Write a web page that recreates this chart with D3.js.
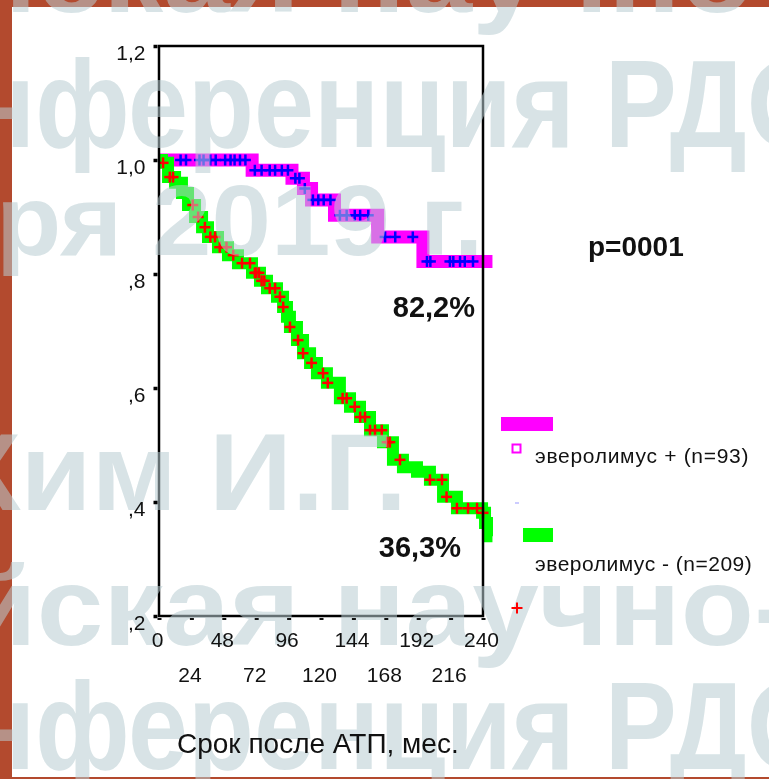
<!DOCTYPE html>
<html>
<head>
<meta charset="UTF-8">
<title>Выживаемость после АТП</title>
<style>
    body { margin: 0; background: #fff; }
    svg text { font-family: "Liberation Sans", Arial, sans-serif; }
    .axis path { display: none; }
    .axis text { fill: #111; }
    .wm text { font-weight: bold; fill: #b8cdd2; }
</style>
</head>
<body>
<svg id="chart" width="769" height="779"></svg>
<script src="https://cdn.jsdelivr.net/npm/d3@7/dist/d3.min.js"></script>
<script>
    // everolimus + : step curve (months, survival)
    const plusTimes = [0, 69, 98.5, 107, 113, 130, 162, 195.5, 247];
    const plusSurv = [1.0, 0.982, 0.968, 0.95, 0.930, 0.903, 0.865, 0.822, 0.822];
    const plusCensored = [16, 20, 30, 33, 38, 42, 49, 53, 56, 60, 64, 71, 76, 82, 86, 91, 95.5,
        101, 104, 108, 114, 118, 122, 127, 134, 139, 145, 149, 155, 167.5, 175, 188,
        198.5, 201, 215.5, 218, 223, 226.5, 232.6];

    // everolimus - : step curve
    const minusTimes = [0, 2.2, 6.7, 11.9, 17, 21.5, 26.7, 31.9, 36.3, 43.7, 51.1, 58.5, 68.9,
        74.8, 80, 87.4, 91.9, 94.8, 97, 102.2, 106.7, 111.9, 117, 124.4, 134, 141.5, 148.9,
        156.3, 165.9, 173.3, 180.7, 191.1, 200.7, 210.4, 220.7, 239.3, 241.5, 244.5, 247];
    const minusSurv = [1.0, 0.995, 0.970, 0.960, 0.942, 0.921, 0.900, 0.882, 0.865, 0.847, 0.833,
        0.819, 0.802, 0.788, 0.775, 0.760, 0.742, 0.725, 0.707, 0.684, 0.661, 0.644, 0.626,
        0.609, 0.582, 0.567, 0.549, 0.526, 0.505, 0.474, 0.461, 0.453, 0.439, 0.409, 0.389,
        0.381, 0.363, 0.34, 0.34];
    const minusCensored = [3, 8, 10.4, 25, 29, 34, 38, 41.5, 45, 50, 55, 61.5, 67.4, 71, 72, 74,
        76, 78, 82, 86, 89.6, 92, 97, 103, 106.7, 113, 121.5, 125, 136, 139, 145, 149, 152.6,
        156.3, 160, 165, 169, 171, 178.5, 200.7, 209.6, 213, 220.7, 228.9, 235.6, 240];

    const yTicks = [0.2, 0.4, 0.6, 0.8, 1.0, 1.2];
    const yLabels = [',2', ',4', ',6', ',8', '1,0', '1,2'];
    const xTicks = [0, 24, 48, 72, 96, 120, 144, 168, 192, 216, 240];
    const legendLabels = ['эверолимус + (n=93)', 'эверолимус - (n=209)'];
    const finalLabels = ['82,2%', '36,3%'];
    const pLabel = 'p=0001';
    const xTitle = 'Срок после АТП, мес.';
    const watermarkRows = ['йская научно-', 'нференция РДО', 'ря 2019 г.', 'Ким И.Г.',
        'йская научно-', 'нференция РДО'];

    const svg = d3.select('#chart');

    const x = d3.scaleLinear().domain([0, 240]).range([159, 483]);
    const y = d3.scaleLinear().domain([0.2, 1.2]).range([616, 46]);

    // slide background
    svg.append('rect').attr('x', 0).attr('y', 0).attr('width', 769).attr('height', 779).attr('fill', '#b34a2e');
    svg.append('rect').attr('x', 12).attr('y', 7).attr('width', 757).attr('height', 770).attr('fill', '#fff');

    svg.append('clipPath').attr('id', 'clip')
        .append('rect').attr('x', 159).attr('y', 30).attr('width', 334).attr('height', 600);

    const line = d3.line()
        .x(d => x(d[0]))
        .y(d => y(d[1]))
        .curve(d3.curveStepAfter);

    function survAt(times, surv, t) {
        let i = d3.bisectRight(times, t) - 1;
        return surv[Math.max(0, i)];
    }

    function plusMark(g, cx, cy, color, size, w) {
        g.append('line').attr('x1', cx - size / 2).attr('x2', cx + size / 2).attr('y1', cy).attr('y2', cy)
            .attr('stroke', color).attr('stroke-width', w);
        g.append('line').attr('x1', cx).attr('x2', cx).attr('y1', cy - size / 2).attr('y2', cy + size / 2)
            .attr('stroke', color).attr('stroke-width', w);
    }

    const curves = svg.append('g').attr('clip-path', 'url(#clip)');

    curves.append('path')
        .datum(plusTimes.map((t, i) => [t, plusSurv[i]]))
        .attr('d', line)
        .attr('fill', 'none')
        .attr('stroke', '#ff00ff')
        .attr('stroke-width', 13);

    const blueG = curves.append('g');
    plusCensored.forEach(t => plusMark(blueG, x(t), y(survAt(plusTimes, plusSurv, t)), '#0000ff', 11, 2.5));

    curves.append('path')
        .datum(minusTimes.map((t, i) => [t, minusSurv[i]]))
        .attr('d', line)
        .attr('fill', 'none')
        .attr('stroke', '#00ff00')
        .attr('stroke-width', 12);

    const redG = curves.append('g');
    minusCensored.forEach(t => plusMark(redG, x(t), y(survAt(minusTimes, minusSurv, t)), '#ff0000', 11, 2.5));

    // frame
    svg.append('rect')
        .attr('x', 159).attr('y', 46).attr('width', 324).attr('height', 570)
        .attr('fill', 'none').attr('stroke', '#000').attr('stroke-width', 2.5);

    // watermark
    const wm = svg.append('g').attr('class', 'wm').attr('opacity', 0.55);
    const wmPos = [
        { x: -37, y: 12, size: 112, sx: 1.07 },
        { x: -30, y: 147, size: 124, sx: 0.87 },
        { x: -4, y: 255, size: 100, sx: 1.07 },
        { x: -50, y: 510, size: 110, sx: 1.05 },
        { x: -37, y: 645, size: 112, sx: 1.07 },
        { x: -30, y: 769, size: 124, sx: 0.87 }
    ];
    watermarkRows.forEach((txt, i) => {
        wm.append('text')
            .attr('transform', `translate(${ wmPos[i].x },${ wmPos[i].y }) scale(${ wmPos[i].sx },1)`)
            .attr('font-size', wmPos[i].size)
            .text(txt);
    });

    // axes
    const yAxis = svg.append('g')
        .attr('class', 'axis y-axis')
        .attr('transform', 'translate(157.5,0)')
        .call(d3.axisLeft(y).tickValues(yTicks).tickSize(4).tickPadding(8)
            .tickFormat((d, i) => yLabels[i]));
    yAxis.selectAll('line').attr('stroke', '#000').attr('stroke-width', 3.5);
    yAxis.selectAll('text').attr('font-size', 21).attr('dy', '0.62em');

    const xAxis = svg.append('g')
        .attr('class', 'axis x-axis')
        .attr('transform', 'translate(0,618)')
        .call(d3.axisBottom(x).tickValues(xTicks).tickSize(2).tickPadding(0));
    xAxis.selectAll('line').attr('stroke', '#111').attr('stroke-width', 4);
    xAxis.selectAll('text')
        .attr('font-size', 21)
        .attr('dy', 0)
        .attr('x', -2)
        .attr('y', (d, i) => i % 2 === 0 ? 29 : 64);

    // texts on top
    svg.append('text').attr('x', 475).attr('y', 317).attr('text-anchor', 'end')
        .attr('font-size', 29).attr('font-weight', 'bold').attr('fill', '#111').text(finalLabels[0]);
    svg.append('text').attr('x', 461).attr('y', 557).attr('text-anchor', 'end')
        .attr('font-size', 29).attr('font-weight', 'bold').attr('fill', '#111').text(finalLabels[1]);
    svg.append('text').attr('x', 588).attr('y', 256)
        .attr('font-size', 28).attr('font-weight', 'bold').attr('fill', '#111').text(pLabel);

    svg.append('text').attr('x', 177).attr('y', 753)
        .attr('font-size', 28).attr('fill', '#111').text(xTitle);

    // legend
    const legend = svg.append('g');
    legend.append('rect').attr('x', 501).attr('y', 417).attr('width', 52).attr('height', 14).attr('fill', '#ff00ff');
    legend.append('rect').attr('x', 512.5).attr('y', 444.5).attr('width', 8).attr('height', 8)
        .attr('fill', '#fff').attr('stroke', '#ff00ff').attr('stroke-width', 2);
    legend.append('text').attr('x', 535).attr('y', 463).attr('font-size', 21).attr('letter-spacing', 0.7)
        .attr('fill', '#111').text(legendLabels[0]);
    legend.append('line').attr('x1', 515).attr('x2', 519).attr('y1', 503).attr('y2', 503)
        .attr('stroke', '#9999ff').attr('stroke-width', 1);
    legend.append('rect').attr('x', 523).attr('y', 528).attr('width', 30).attr('height', 14).attr('fill', '#00ff00');
    legend.append('text').attr('x', 535).attr('y', 571).attr('font-size', 21).attr('letter-spacing', 0.5)
        .attr('fill', '#111').text(legendLabels[1]);
    plusMark(legend, 517, 608, '#ff0000', 11, 2);
</script>
</body>
</html>
